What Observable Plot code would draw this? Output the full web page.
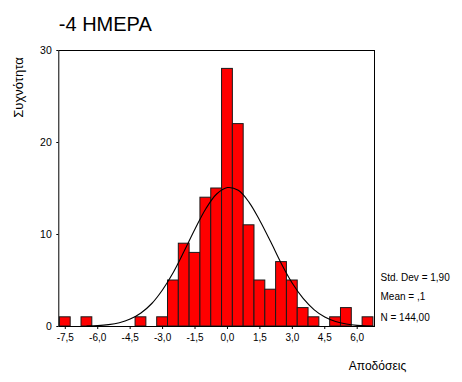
<!DOCTYPE html>
<html>
<head>
<meta charset="utf-8">
<script src="https://cdn.jsdelivr.net/npm/d3@7"></script>
<script src="https://cdn.jsdelivr.net/npm/@observablehq/plot@0.6"></script>
<style>
  html, body { margin: 0; padding: 0; background: white; }
  #chart { width: 462px; height: 382px; }
</style>
</head>
<body>
<div id="chart"></div>
<script>
// ---- data ----
const title = "-4 HMEPA";
const yLabel = "Συχνότητα";
const xLabel = "Αποδόσεις";
const statsLines = ["Std. Dev = 1,90", "Mean = ,1", "N = 144,00"];

const binCenters = [-7.5, -6.5, -4.0, -3.0, -2.5, -2.0, -1.5, -1.0, -0.5, 0.0, 0.5, 1.0, 1.5, 2.0, 2.5, 3.0, 3.5, 4.0, 5.0, 5.5, 6.5];
const counts     = [   1,    1,    1,    1,    5,    9,    8,   14,   15,  28,  22,  11,   5,   4,   7,   5,   2,   1,   1,   2,   1];
const binWidth = 0.5;

const curveX = [-6.5, -6.0, -5.5, -5.0, -4.5, -4.0, -3.5, -3.0, -2.5, -2.0, -1.5, -1.0, -0.5, 0.0, 0.5, 1.0, 1.5, 2.0, 2.5, 3.0, 3.5, 4.0, 4.5, 5.0, 5.5, 6.0, 6.5, 6.75];
const curveY = [0.04, 0.09, 0.2, 0.41, 0.81, 1.47, 2.5, 4.0, 5.9, 8.2, 10.6, 12.8, 14.4, 15.1, 14.8, 13.5, 11.5, 9.2, 6.8, 4.7, 3.05, 1.84, 1.03, 0.54, 0.27, 0.12, 0.05, 0.03];

const xTicks = [-7.5, -6.0, -4.5, -3.0, -1.5, 0.0, 1.5, 3.0, 4.5, 6.0];
const xTickLabels = ["-7,5", "-6,0", "-4,5", "-3,0", "-1,5", "0,0", "1,5", "3,0", "4,5", "6,0"];
const yTicks = [0, 10, 20, 30];
const yTickLabels = ["0", "10", "20", "30"];

// ---- tables ----
const bars = binCenters.map((c, i) => ({x1: c - binWidth / 2, x2: c + binWidth / 2, count: counts[i]}));
const curve = curveX.map((x, i) => ({x, y: curveY[i]}));

const font = "'Liberation Sans', Arial, Helvetica, sans-serif";

const chart = Plot.plot({
  width: 462,
  height: 382,
  marginLeft: 58.3,
  marginRight: 88,
  marginTop: 50,
  marginBottom: 56,
  style: {fontFamily: font, fontSize: "10px", background: "white", color: "black"},
  x: {domain: [-7.8, 6.8]},
  y: {domain: [0, 30]},
  marks: [
    Plot.rectY(bars, {x1: "x1", x2: "x2", y: "count", fill: "#ff0000", stroke: "#1a1a1a", strokeWidth: 1, inset: 0}),
    Plot.line(curve, {x: "x", y: "y", stroke: "black", strokeWidth: 1.1, curve: "catmull-rom"}),
    Plot.frame({stroke: "black", strokeWidth: 1}),
    Plot.axisX(xTicks, {tickSize: 3, tickPadding: 4, fontSize: 10, label: null,
      tickFormat: d => xTickLabels[xTicks.indexOf(d)]}),
    Plot.axisY(yTicks, {tickSize: 2, tickPadding: 5, fontSize: 10.5, label: null,
      tickFormat: d => yTickLabels[yTicks.indexOf(d)]}),
    Plot.text([title], {frameAnchor: "top-left", dx: 0, dy: -26.4, textAnchor: "start", lineAnchor: "middle", fontSize: 20}),
    Plot.text([yLabel], {frameAnchor: "top-left", dx: 18 - 58.3, dy: 87 - 50, rotate: -90, textAnchor: "middle", lineAnchor: "middle", fontSize: 13}),
    Plot.text([xLabel], {frameAnchor: "bottom-left", dx: 377 - 58.3, dy: 40, textAnchor: "middle", lineAnchor: "middle", fontSize: 12}),
    Plot.text([statsLines[0]], {frameAnchor: "bottom-right", dx: 6, dy: -49, textAnchor: "start", lineAnchor: "middle", fontSize: 10}),
    Plot.text([statsLines[1]], {frameAnchor: "bottom-right", dx: 6, dy: -30, textAnchor: "start", lineAnchor: "middle", fontSize: 10}),
    Plot.text([statsLines[2]], {frameAnchor: "bottom-right", dx: 6, dy: -9, textAnchor: "start", lineAnchor: "middle", fontSize: 10})
  ]
});
document.getElementById("chart").appendChild(chart);
</script>
</body>
</html>
